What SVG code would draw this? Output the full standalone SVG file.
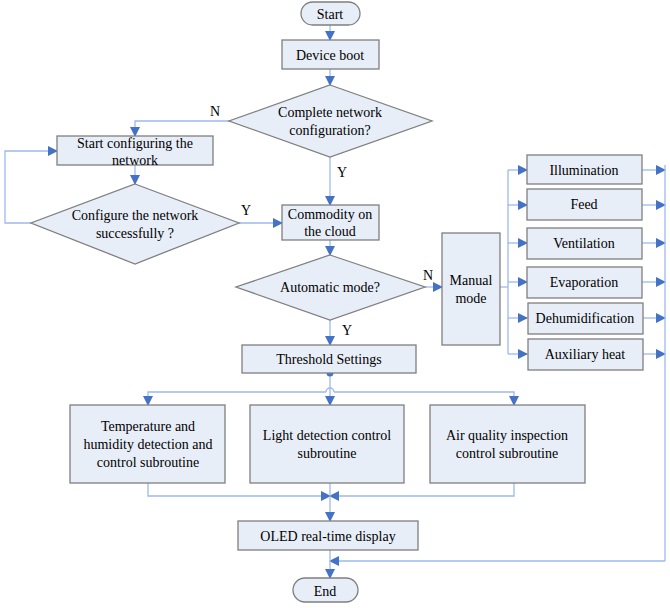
<svg xmlns="http://www.w3.org/2000/svg" width="670" height="608" viewBox="0 0 670 608">
<style>
.b{fill:#e8eef8;stroke:#7f7f7f;stroke-width:1.3}
.t{font-family:"Liberation Serif",serif;font-size:14px;fill:#000;text-anchor:middle}
.c path{fill:none;stroke:#9db8ef;stroke-width:1.3}
.c path.a{marker-end:url(#ar)}
</style>
<defs><marker id="ar" markerWidth="10" markerHeight="10" refX="9" refY="5" orient="auto" markerUnits="userSpaceOnUse"><path d="M0,0 L10,5 L0,10 z" fill="#4472c4"/></marker></defs>
<rect width="670" height="608" fill="#fff"/>
<g class="c">
<path class="a" d="M330,25 V40"/>
<path class="a" d="M330,69 V85"/>
<path class="a" d="M229,121 H135 V136"/>
<path class="a" d="M330,157 V205"/>
<path class="a" d="M135,165 V184"/>
<path class="a" d="M31,223 H5 V151 H57"/>
<path class="a" d="M239,223 H282"/>
<path class="a" d="M330,240 V255"/>
<path class="a" d="M425,287 H442"/>
<path class="a" d="M330,320 V345"/>
<path d="M500,287 H508"/>
<path class="a" d="M508,170 H527"/><path class="a" d="M508,205 H527"/><path class="a" d="M508,243 H527"/>
<path class="a" d="M508,282 H527"/><path class="a" d="M508,318 H527"/><path class="a" d="M508,354 H527"/>
<path d="M508,170 V354"/>
<path class="a" d="M642,170 H665"/><path class="a" d="M642,205 H665"/><path class="a" d="M642,243 H665"/>
<path class="a" d="M642,282 H665"/><path class="a" d="M642,318 H665"/><path class="a" d="M642,354 H665"/>
<path d="M665,165 V561"/>
<path class="a" d="M665,561 H330"/>
<path class="a" d="M330,373 V405"/>
<path class="a" d="M326,392 H148 V405"/>
<path class="a" d="M334,392 H514 V405"/>
<path d="M326,392 A4,4 0 0 1 334,392"/>
<path class="a" d="M148,483 V496 H330"/>
<path class="a" d="M514,483 V496 H330"/>
<path class="a" d="M330,483 V521"/>
<path class="a" d="M330,550 V578"/>
</g>
<circle cx="330" cy="373" r="3.5" fill="#4472c4"/>
<g id="start"><rect class="b" x="301" y="2" width="59" height="23" rx="11.5"/><text class="t" x="330" y="19">Start</text></g>
<g id="boot"><rect class="b" x="282" y="40" width="97" height="29"/><text class="t" x="330" y="60">Device boot</text></g>
<g id="d1"><polygon class="b" points="330,85 432,121 330,157 229,121"/><text class="t" x="330" y="117">Complete network</text><text class="t" x="330" y="135">configuration?</text></g>
<text class="t" x="215" y="116">N</text><text class="t" x="342" y="177">Y</text>
<g id="startcfg"><rect class="b" x="57" y="136" width="156" height="29"/><text class="t" x="135" y="148">Start configuring the</text><text class="t" x="135" y="165">network</text></g>
<g id="d2"><polygon class="b" points="135,184 239,223 135,264 31,223"/><text class="t" x="135" y="220">Configure the network</text><text class="t" x="135" y="238">successfully ?</text></g>
<text class="t" x="246" y="215">Y</text>
<g id="cloud"><rect class="b" x="282" y="205" width="97" height="35"/><text class="t" x="330" y="219">Commodity on</text><text class="t" x="330" y="236">the cloud</text></g>
<g id="d3"><polygon class="b" points="330,255 425,287 330,320 236,287"/><text class="t" x="330" y="292">Automatic mode?</text></g>
<text class="t" x="428" y="280">N</text><text class="t" x="347" y="335">Y</text>
<g id="manual"><rect class="b" x="442" y="233" width="58" height="112"/><text class="t" x="471" y="285">Manual</text><text class="t" x="471" y="303">mode</text></g>
<g id="illum"><rect class="b" x="527" y="155" width="115" height="29"/><text class="t" x="584" y="175">Illumination</text></g>
<g id="feed"><rect class="b" x="527" y="189" width="115" height="31"/><text class="t" x="584" y="209">Feed</text></g>
<g id="vent"><rect class="b" x="527" y="228" width="115" height="31"/><text class="t" x="584" y="248">Ventilation</text></g>
<g id="evap"><rect class="b" x="527" y="267" width="115" height="31"/><text class="t" x="584" y="287">Evaporation</text></g>
<g id="dehum"><rect class="b" x="528" y="303" width="115" height="31"/><text class="t" x="585" y="323">Dehumidification</text></g>
<g id="aux"><rect class="b" x="528" y="339" width="115" height="31"/><text class="t" x="585" y="359">Auxiliary heat</text></g>
<g id="thresh"><rect class="b" x="242" y="345" width="174" height="28"/><text class="t" x="329" y="364">Threshold Settings</text></g>
<g id="sub1"><rect class="b" x="70" y="405" width="155" height="78"/><text class="t" x="148" y="431">Temperature and</text><text class="t" x="148" y="449">humidity detection and</text><text class="t" x="148" y="467">control subroutine</text></g>
<g id="sub2"><rect class="b" x="250" y="405" width="154" height="78"/><text class="t" x="327" y="440">Light detection control</text><text class="t" x="327" y="458">subroutine</text></g>
<g id="sub3"><rect class="b" x="430" y="405" width="155" height="78"/><text class="t" x="507" y="440">Air quality inspection</text><text class="t" x="507" y="458">control subroutine</text></g>
<g id="oled"><rect class="b" x="238" y="521" width="180" height="29"/><text class="t" x="328" y="541">OLED real-time display</text></g>
<g id="end"><rect class="b" x="293" y="578" width="65" height="24" rx="12"/><text class="t" x="325" y="596">End</text></g>
</svg>
